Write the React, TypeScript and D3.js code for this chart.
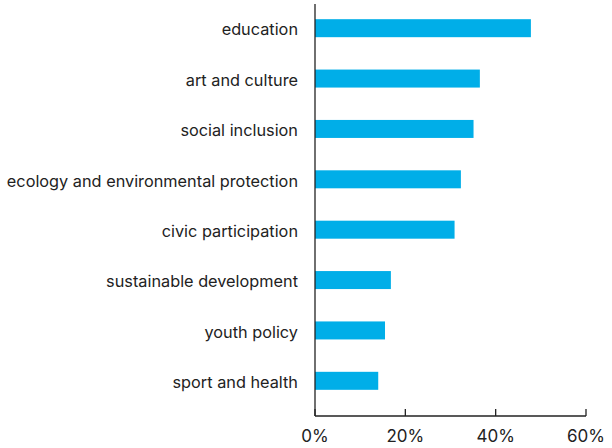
import React from "react";
import * as d3 from "d3";

const categories = [
  "education",
  "art and culture",
  "social inclusion",
  "ecology and environmental protection",
  "civic participation",
  "sustainable development",
  "youth policy",
  "sport and health",
];
const values = [47.8, 36.5, 35.1, 32.3, 30.9, 16.8, 15.5, 14.0];
const xTicks = [0, 20, 40, 60];

export default function App() {
  const W = 612;
  const H = 448;
  const x = d3.scaleLinear().domain([0, 60]).range([315, 586]);
  const y = d3.scaleBand<string>().domain(categories).range([3, 406]).padding(0);
  const barH = 18;
  const axisY = 416;
  const font = "Inter, 'Noto Sans', sans-serif";
  return (
    <svg width={W} height={H} style={{ position: "absolute", left: 0, top: 0 }}>
      <rect width={W} height={H} fill="#fff" />
      {categories.map((c, i) => {
        const cy = (y(c) as number) + y.bandwidth() / 2;
        return (
          <g key={c}>
            <rect x={x(0)} y={cy - barH / 2} width={x(values[i]) - x(0)} height={barH} fill="#00AEE8" />
            <text x={298} y={cy + 1.5} dy="0.35em" textAnchor="end" fontFamily={font} fontSize={16.3} fill="#222">
              {c}
            </text>
          </g>
        );
      })}
      <line x1={x(0)} x2={x(0)} y1={4} y2={axisY} stroke="#222" strokeWidth={1.3} />
      <line x1={x(0)} x2={x(60)} y1={axisY} y2={axisY} stroke="#222" strokeWidth={1.3} />
      {xTicks.map((t) => (
        <g key={t}>
          <line x1={x(t)} x2={x(t)} y1={axisY} y2={axisY - 7} stroke="#222" strokeWidth={1.3} />
          <text x={x(t)} y={436} dy="0.35em" textAnchor="middle" fontFamily={font} fontSize={17} fill="#222">
            {t}%
          </text>
        </g>
      ))}
    </svg>
  );
}
